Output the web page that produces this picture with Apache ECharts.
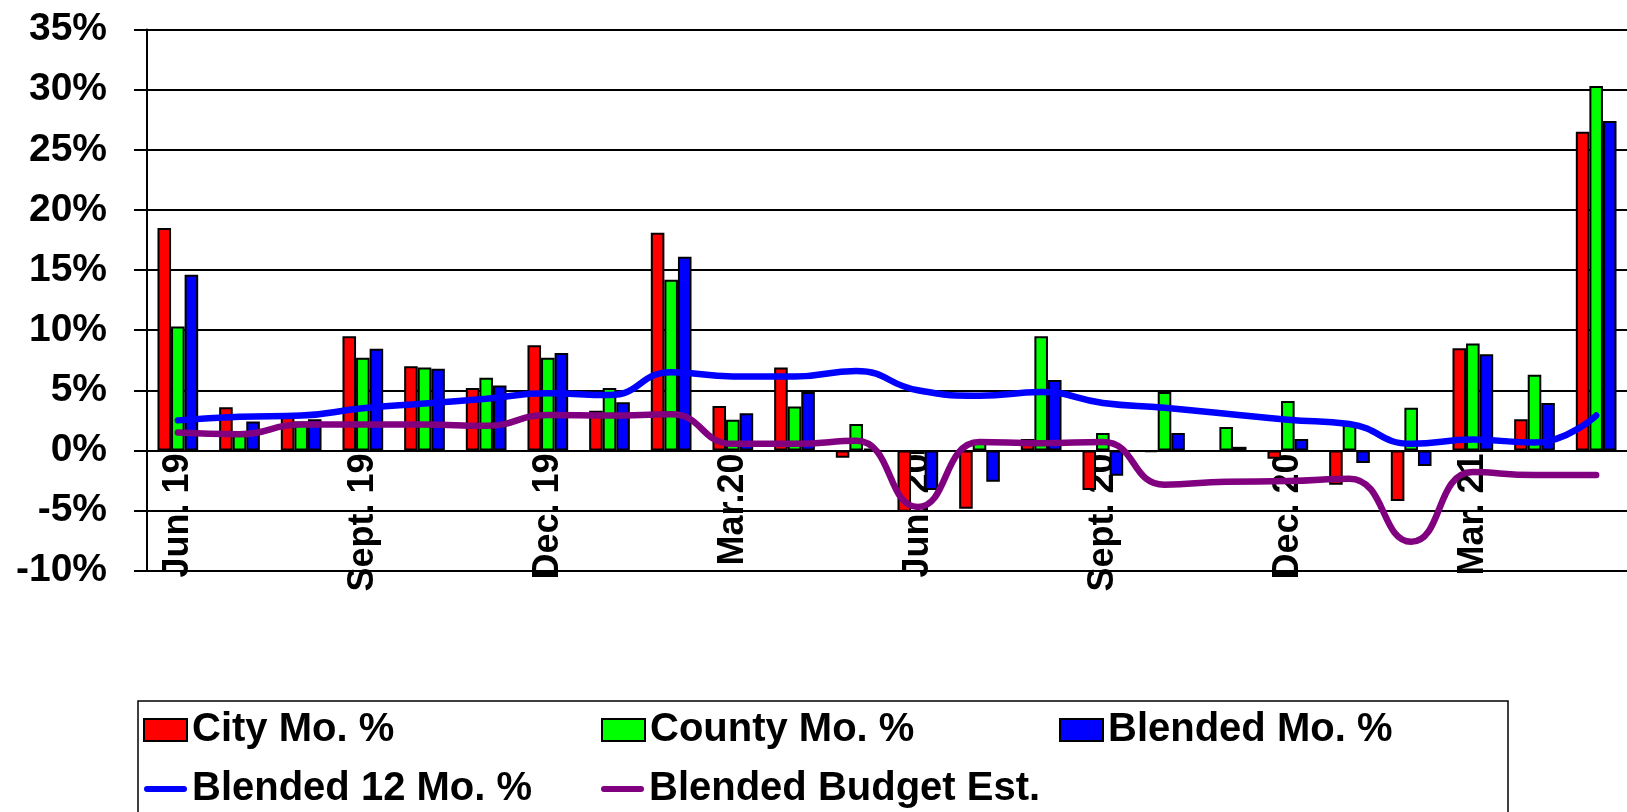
<html>
<head>
    <meta http-equiv="content-type" content="text/html; charset=utf-8">
    <title>Monthly % change</title>
    <script src="https://cdn.jsdelivr.net/npm/echarts@6/dist/echarts.min.js"></script>
    <style>
        html, body { margin: 0; padding: 0; background: #fff; }
        #chart { width: 1627px; height: 812px; }
    </style>
</head>

<body>
    <div id="chart"></div>
    <script type="text/javascript">
        var months = ['Jun. 19', 'Jul. 19', 'Aug. 19', 'Sept. 19', 'Oct. 19', 'Nov. 19', 'Dec. 19',
            'Jan. 20', 'Feb. 20', 'Mar.20', 'Apr. 20', 'May 20', 'Jun. 20', 'Jul. 20', 'Aug. 20',
            'Sept. 20', 'Oct. 20', 'Nov. 20', 'Dec. 20', 'Jan. 21', 'Feb. 21', 'Mar. 21', 'Apr. 21', 'May 21'];
        var cityMo = [18.5, 3.6, 3.0, 9.5, 7.0, 5.2, 8.75, 3.3, 18.1, 3.7, 6.9, -0.6,
            -5.1, -4.85, 0.95, -3.3, -0.15, -0.1, -0.7, -2.85, -4.2, 8.5, 2.6, 26.5];
        var countyMo = [10.3, 1.5, 2.4, 7.7, 6.9, 6.05, 7.7, 5.2, 14.2, 2.55, 3.65, 2.2,
            -0.3, 0.7, 9.5, 1.45, 4.85, 1.95, 4.1, 2.2, 3.55, 8.9, 6.3, 30.3];
        var blendedMo = [14.6, 2.4, 2.6, 8.45, 6.8, 5.4, 8.1, 4.0, 16.1, 3.1, 4.85, 0.15,
            -3.3, -2.6, 5.85, -2.1, 1.45, 0.3, 0.95, -1.05, -1.3, 8.0, 3.95, 27.4];
        var blended12 = [2.5, 2.8, 2.9, 3.5, 3.9, 4.3, 4.75, 4.6, 6.5, 6.15, 6.15, 6.6,
            5.0, 4.55, 4.85, 3.95, 3.55, 3.05, 2.55, 2.2, 0.55, 0.9, 0.65, 2.9];
        var budgetEst = [1.5, 1.35, 2.15, 2.15, 2.15, 2.05, 2.95, 2.9, 3.0, 0.55, 0.55, 0.8,
            -4.7, 0.7, 0.6, 0.7, -2.85, -2.6, -2.55, -2.35, -7.6, -1.8, -2.05, -2.05];

        var font = "'Liberation Sans', Arial, sans-serif";
        var lineIcon = 'path://M3,0 L40,0 A3,3 0 0 1 40,6 L3,6 A3,3 0 0 1 3,0 Z';

        function barSeries(name, color, data) {
            return {
                name: name, type: 'bar', data: data,
                barGap: 0, barCategoryGap: '34%',
                itemStyle: { color: color, borderColor: '#000', borderWidth: 2 }
            };
        }
        function lineSeries(name, color, data) {
            return {
                name: name, type: 'line', data: data, smooth: 0.5,
                symbol: 'none', z: 5,
                lineStyle: { color: color, width: 6.5, cap: 'round' },
                itemStyle: { color: color }
            };
        }

        var chart = echarts.init(document.getElementById('chart'));
        chart.setOption({
            animation: false,
            backgroundColor: '#fff',
            grid: { left: 147, top: 29.5, width: 1490, height: 541.2 },
            legend: {
                left: 138, top: 701, width: 1370,
                padding: [4, 0, 10, 5],
                borderColor: '#000', borderWidth: 1.5,
                itemGap: 9, itemWidth: 43, itemHeight: 22,
                textStyle: { fontFamily: font, fontSize: 40, fontWeight: 'bold', color: '#000',
                    width: 400, lineHeight: 50 },
                data: [
                    { name: 'City Mo. %', icon: 'rect' },
                    { name: 'County Mo. %', icon: 'rect' },
                    { name: 'Blended Mo. %', icon: 'rect' },
                    { name: 'Blended 12 Mo. %', icon: lineIcon },
                    { name: 'Blended Budget Est.', icon: lineIcon }
                ]
            },
            xAxis: {
                type: 'category', data: months,
                position: 'bottom', offset: -120.3,
                axisLine: { onZero: false, lineStyle: { color: '#000', width: 2 } },
                axisTick: { interval: 0, length: 9, lineStyle: { color: '#000', width: 2 } },
                axisLabel: { interval: 2, rotate: 90, margin: 3, color: '#000',
                    fontFamily: font, fontSize: 36, fontWeight: 'bold' }
            },
            yAxis: {
                type: 'value', min: -10, max: 35, interval: 5,
                axisLine: { show: true, lineStyle: { color: '#000', width: 2 } },
                axisTick: { show: true, length: 13, lineStyle: { color: '#000', width: 2 } },
                splitLine: { lineStyle: { color: '#000', width: 2 } },
                axisLabel: { formatter: '{value}%', margin: 40, color: '#000',
                    fontFamily: font, fontSize: 39, fontWeight: 'bold' }
            },
            series: [
                barSeries('City Mo. %', '#ff0000', cityMo),
                barSeries('County Mo. %', '#00ff00', countyMo),
                barSeries('Blended Mo. %', '#0000ff', blendedMo),
                lineSeries('Blended 12 Mo. %', '#0000ff', blended12),
                lineSeries('Blended Budget Est.', '#800080', budgetEst)
            ]
        });
    </script>
</body>
</html>
